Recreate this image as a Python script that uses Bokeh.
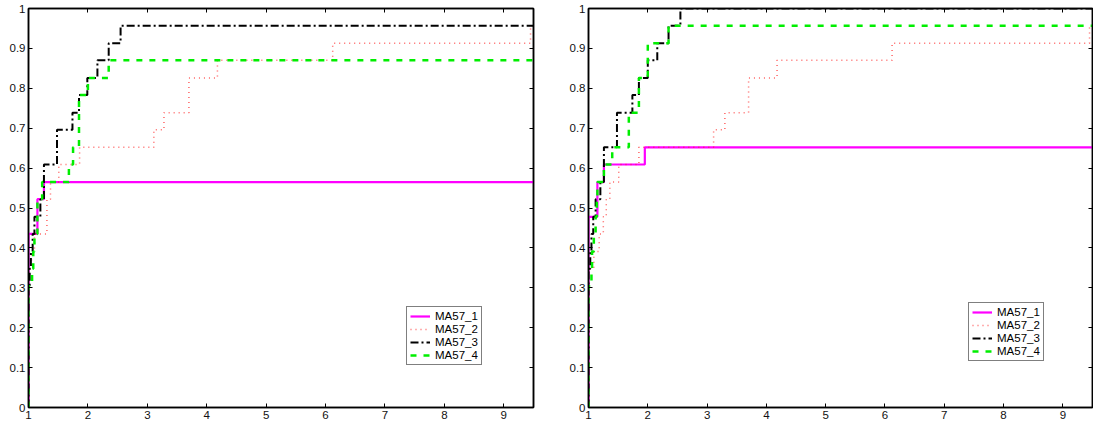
from bokeh.plotting import figure
from bokeh.layouts import row
from bokeh.models import (Range1d, LinearAxis, FixedTicker, Legend, LegendItem,
                          CustomLabelingPolicy)
from bokeh.embed import file_html
from bokeh.resources import INLINE

# Performance profiles of four MA57 solver variants (fraction of problems solved vs. ratio)
names = ["MA57_1", "MA57_2", "MA57_3", "MA57_4"]

# Left panel: step breakpoints (tau) and profile values
left_x1 = [1, 1, 1.15, 1.26, 9.5]
left_y1 = [0, 0.435, 0.522, 0.565, 0.565]
left_x2 = [1, 1, 1.05, 1.10, 1.31, 1.37, 1.51, 1.86, 3.11, 3.28, 3.70, 4.18, 6.12, 9.45, 9.5]
left_y2 = [0, 0.348, 0.391, 0.435, 0.522, 0.565, 0.609, 0.652, 0.696, 0.739, 0.826, 0.870, 0.913, 0.957, 0.957]
left_x3 = [1, 1, 1.02, 1.04, 1.07, 1.10, 1.20, 1.26, 1.48, 1.74, 1.85, 1.99, 2.16, 2.35, 2.55, 9.5]
left_y3 = [0, 0.304, 0.348, 0.391, 0.435, 0.478, 0.522, 0.609, 0.696, 0.739, 0.783, 0.826, 0.870, 0.913, 0.957, 0.957]
left_x4 = [1, 1, 1.06, 1.08, 1.10, 1.15, 1.23, 1.68, 1.75, 1.85, 2.0, 2.35, 9.5]
left_y4 = [0, 0.304, 0.348, 0.391, 0.435, 0.522, 0.565, 0.609, 0.652, 0.783, 0.826, 0.870, 0.870]

# Right panel
right_x1 = [1, 1, 1.15, 1.26, 1.95, 9.5]
right_y1 = [0, 0.478, 0.565, 0.609, 0.652, 0.652]
right_x2 = [1, 1, 1.09, 1.18, 1.25, 1.30, 1.36, 1.51, 1.85, 3.11, 3.30, 3.70, 4.18, 6.12, 9.45, 9.5]
right_y2 = [0, 0.348, 0.391, 0.435, 0.478, 0.522, 0.565, 0.609, 0.652, 0.696, 0.739, 0.826, 0.870, 0.913, 0.957, 0.957]
right_x3 = [1, 1, 1.03, 1.05, 1.08, 1.12, 1.20, 1.26, 1.48, 1.74, 1.85, 2.0, 2.16, 2.35, 2.55, 9.5]
right_y3 = [0, 0.348, 0.391, 0.435, 0.478, 0.522, 0.565, 0.652, 0.739, 0.783, 0.826, 0.870, 0.913, 0.957, 1.0, 1.0]
right_x4 = [1, 1, 1.05, 1.06, 1.09, 1.12, 1.14, 1.15, 1.26, 1.40, 1.68, 1.85, 2.0, 2.35, 9.5]
right_y4 = [0, 0.304, 0.348, 0.391, 0.435, 0.478, 0.522, 0.565, 0.609, 0.652, 0.739, 0.826, 0.913, 0.957, 0.957]

x_ticks = [1, 2, 3, 4, 5, 6, 7, 8, 9]
y_ticks = [0, 0.1, 0.2, 0.3, 0.4, 0.5, 0.6, 0.7, 0.8, 0.9, 1.0]
y_tick_labels = ["0", "0.1", "0.2", "0.3", "0.4", "0.5", "0.6", "0.7", "0.8", "0.9", "1"]
x_limits = (1, 9.5)
y_limits = (0, 1)

FONT = "Liberation Sans"
styles = [
    dict(line_color="#ff00ff", line_width=2.2, line_dash="solid", line_alpha=1.0),
    dict(line_color="#ff2020", line_width=1.5, line_dash="1 4", line_alpha=0.7),
    dict(line_color="#000000", line_width=2.0, line_dash="8 3 2 3", line_alpha=1.0),
    dict(line_color="#00ee00", line_width=2.5, line_dash="6 7", line_alpha=1.0),
]

# mirror axes on top/right carry ticks only: drop every label
NO_LABELS = "const all = Array.from(indices); for (const i of all) indices.unset(i); return indices"


def style_axis(ax, labels=True):
    ax.major_tick_in = 4
    ax.major_tick_out = 0
    ax.minor_tick_in = 0
    ax.minor_tick_out = 0
    ax.axis_line_color = "black"
    ax.axis_line_width = 1.5
    ax.major_tick_line_color = "black"
    ax.major_label_text_font = FONT
    ax.major_label_text_font_size = "11.5px"
    ax.major_label_text_color = "#111111"
    ax.major_label_standoff = 3
    if not labels:
        ax.major_label_policy = CustomLabelingPolicy(code=NO_LABELS)
        ax.major_label_text_font_size = "0px"
        ax.major_label_standoff = 0


def make_panel(series, border_left, border_right, legend_loc, fw):
    p = figure(frame_width=fw, frame_height=399,
               x_range=Range1d(*x_limits), y_range=Range1d(*y_limits),
               output_backend="svg", toolbar_location=None,
               min_border_left=border_left, min_border_right=border_right,
               min_border_top=8, min_border_bottom=21)
    p.xgrid.visible = False
    p.ygrid.visible = False
    p.outline_line_color = "black"
    p.outline_line_width = 1.5
    p.background_fill_color = "white"
    p.border_fill_color = "white"

    p.xaxis.ticker = FixedTicker(ticks=x_ticks)
    p.yaxis.ticker = FixedTicker(ticks=y_ticks)
    p.yaxis.major_label_overrides = {t: s for t, s in zip(y_ticks, y_tick_labels)}
    style_axis(p.xaxis[0])
    style_axis(p.yaxis[0])

    top = LinearAxis(ticker=FixedTicker(ticks=x_ticks))
    style_axis(top, labels=False)
    p.add_layout(top, "above")
    right = LinearAxis(ticker=FixedTicker(ticks=y_ticks))
    style_axis(right, labels=False)
    p.add_layout(right, "right")

    items = []
    for name, (xs, ys), st in zip(names, series, styles):
        r = p.step(xs, ys, mode="after", **st)
        items.append(LegendItem(label=name, renderers=[r]))

    legend = Legend(items=items, location=legend_loc)
    legend.label_text_font = FONT
    legend.label_text_font_size = "11.5px"
    legend.label_text_color = "black"
    legend.label_height = 12
    legend.glyph_height = 12
    legend.glyph_width = 20
    legend.label_standoff = 5
    legend.spacing = 1
    legend.padding = 3
    legend.margin = 0
    legend.border_line_color = "black"
    legend.border_line_width = 1
    legend.background_fill_alpha = 1.0
    p.add_layout(legend, "center")
    return p


left = make_panel([(left_x1, left_y1), (left_x2, left_y2), (left_x3, left_y3), (left_x4, left_y4)],
                  28, 15, (378, 42), 505)
right_p = make_panel([(right_x1, right_y1), (right_x2, right_y2), (right_x3, right_y3), (right_x4, right_y4)],
                     40, 1, (380, 46), 504)

layout = row(left, right_p, spacing=0)
open("out.html", "w").write(file_html(layout, INLINE))
